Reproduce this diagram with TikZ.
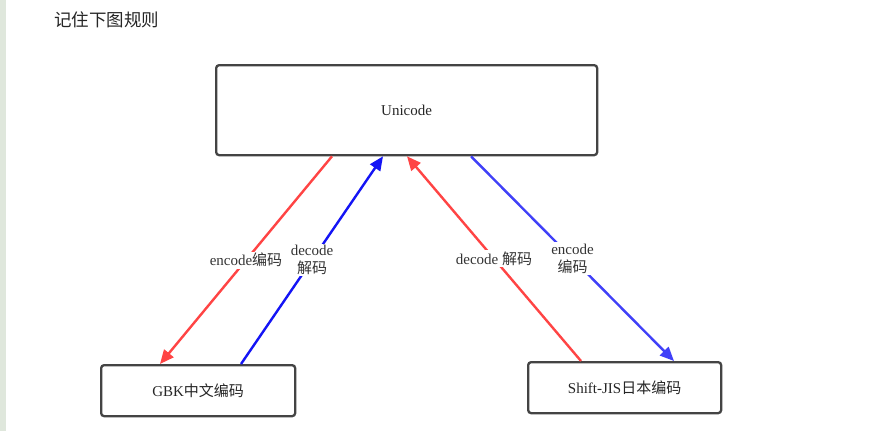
\documentclass[tikz,border=0pt]{standalone}
\usepackage{fontspec}
\setmainfont{Liberation Serif}
\newfontfamily\cjk{Noto Sans CJK SC}
\usetikzlibrary{arrows.meta,calc}
\definecolor{boxline}{HTML}{444444}
\definecolor{myred}{HTML}{FF4444}
\definecolor{myblue}{HTML}{1414F5}
\definecolor{myblueb}{HTML}{4040F8}
\definecolor{sidebar}{HTML}{DFE7DC}
\tikzset{
  textbox/.style={draw=boxline, line width=2.3pt, rounded corners=3pt, fill=white, anchor=north west, inner sep=0pt},
  conn/.style={line width=2.4pt, -{Triangle[length=14pt,width=12pt]}},
  lbl/.style={fill=white, inner sep=1.5pt, font=\fontsize{15}{18}\selectfont, align=center, text=black!80},
  boxtxt/.style={font=\fontsize{15}{17}\selectfont, text=black!85}
}
\begin{document}
\begin{tikzpicture}[x=1pt,y=-1pt]
\useasboundingbox (0,0) rectangle (877,431);
\fill[white] (0,0) rectangle (877,431);
\fill[sidebar] (0,0) rectangle (6,431);
\node[anchor=west, inner sep=0pt, font=\cjk\fontsize{17.5}{19}\selectfont, text=black!85] (title) at (54,20) {记住下图规则};

\node[textbox, minimum width=381pt, minimum height=90pt] (uni) at (215,64) {};
\node[boxtxt] (unitxt) at (uni.center) {Unicode};
\node[textbox, minimum width=194pt, minimum height=51pt] (gbk) at (100,364) {};
\node[boxtxt] (gbktxt) at (gbk.center) {GBK{\cjk 中文编码}};
\node[textbox, minimum width=193pt, minimum height=51pt] (sjis) at (527,361) {};
\node[boxtxt] (sjistxt) at (sjis.center) {Shift-JIS{\cjk 日本编码}};

\coordinate (u1) at ($(uni.south west)+(117,0)$);
\coordinate (u2) at ($(uni.south west)+(168,0)$);
\coordinate (u3) at ($(uni.south west)+(192,0)$);
\coordinate (u4) at ($(uni.south west)+(256,0)$);
\coordinate (g1) at ($(gbk.north west)+(60,0)$);
\coordinate (g2) at ($(gbk.north west)+(141,0)$);
\coordinate (s1) at ($(sjis.north west)+(54,0)$);
\coordinate (s2) at ($(sjis.north west)+(147,0)$);

\draw[conn, myred] (u1) -- node[lbl] (l1) {encode{\cjk 编码}} (g1);
\draw[conn, myblue] (g2) -- node[lbl] (l2) {decode\\{\cjk 解码}} (u2);
\draw[conn, myred] (s1) -- node[lbl] (l3) {decode {\cjk 解码}} (u3);
\draw[conn, myblueb] (u4) -- node[lbl] (l4) {encode\\{\cjk 编码}} (s2);
\end{tikzpicture}
\end{document}
